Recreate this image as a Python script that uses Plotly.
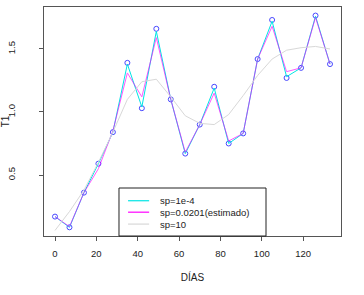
import plotly.graph_objects as go

dias = [0, 7, 14, 21, 28, 35, 42, 49, 56, 63, 70, 77, 84, 91, 98, 105, 112, 119, 126, 133]
t1 = [0.17, 0.085, 0.36, 0.59, 0.84, 1.39, 1.03, 1.66, 1.10, 0.67, 0.90, 1.20, 0.75, 0.83, 1.42, 1.73, 1.27, 1.35, 1.765, 1.38]
sp_1e4 = [0.17, 0.085, 0.36, 0.59, 0.84, 1.38, 1.04, 1.64, 1.10, 0.67, 0.90, 1.19, 0.75, 0.83, 1.42, 1.72, 1.28, 1.35, 1.76, 1.38]
sp_0201 = [0.17, 0.09, 0.36, 0.55, 0.85, 1.31, 1.12, 1.59, 1.10, 0.68, 0.90, 1.15, 0.77, 0.83, 1.42, 1.68, 1.32, 1.35, 1.75, 1.38]
sp_10 = [0.06, 0.21, 0.38, 0.60, 0.84, 1.10, 1.24, 1.26, 1.12, 0.97, 0.91, 0.90, 0.98, 1.13, 1.29, 1.42, 1.49, 1.51, 1.52, 1.50]

legend_labels = ["sp=1e-4", "sp=0.0201(estimado)", "sp=10"]
legend_colors = ["#00E5E5", "#FF00FF", "#D8D8D8"]

x_ticks = [0, 20, 40, 60, 80, 100, 120]
y_ticks = [0.5, 1.0, 1.5]
y_ticklabels = ["0.5", "1.0", "1.5"]

font = "Liberation Sans, Arial, sans-serif"

fig = go.Figure()
fig.add_trace(go.Scatter(x=dias, y=t1, mode="markers",
                         marker=dict(symbol="circle-open", size=5, color="#4848ff", line=dict(width=1)),
                         showlegend=False))
fig.add_trace(go.Scatter(x=dias, y=sp_1e4, mode="lines", line=dict(color=legend_colors[0], width=1), showlegend=False))
fig.add_trace(go.Scatter(x=dias, y=sp_0201, mode="lines", line=dict(color=legend_colors[1], width=1), opacity=0.65, showlegend=False))
fig.add_trace(go.Scatter(x=dias, y=sp_10, mode="lines", line=dict(color=legend_colors[2], width=1), showlegend=False))

# legend box (R-style)
lx0, lx1, ly0, ly1 = 0.2525, 0.7475, 0.0, 0.2096
fig.add_shape(type="rect", xref="paper", yref="paper", x0=lx0, x1=lx1, y0=ly0, y1=ly1,
              line=dict(color="#222", width=1), fillcolor="white", layer="above")
rows = [0.154, 0.104, 0.052]
for lab, col, yy in zip(legend_labels, legend_colors, rows):
    fig.add_shape(type="line", xref="paper", yref="paper", x0=0.283, x1=0.354, y0=yy, y1=yy,
                  line=dict(color=col, width=1.2), layer="above")
    fig.add_annotation(xref="paper", yref="paper", x=0.384, y=yy, text=lab, showarrow=False,
                       xanchor="left", yanchor="middle", font=dict(family=font, size=9.5, color="#222"))

fig.update_layout(
    width=364, height=295,
    margin=dict(l=44, r=23, t=7, b=59),
    paper_bgcolor="white", plot_bgcolor="white",
    font=dict(family=font, size=9.5, color="#222"),
    showlegend=False, hovermode=False,
)
fig.update_xaxes(range=[-5.32, 138.32], tickvals=x_ticks, showgrid=False, zeroline=False, automargin=False,
                 showline=True, mirror=True, linecolor="#555", linewidth=1,
                 ticks="outside", ticklen=4, tickcolor="#555", ticklabelstandoff=5,
                 title=dict(text="DÍAS", standoff=15, font=dict(size=10)))
fig.update_yaxes(range=[0.016, 1.833], tickvals=y_ticks, ticktext=y_ticklabels, showgrid=False, zeroline=False, automargin=False,
                 showline=True, mirror=True, linecolor="#555", linewidth=1,
                 ticks="outside", ticklen=4, tickcolor="#555", tickangle=-90, ticklabelstandoff=20,
                 title=dict(text="T1", standoff=3, font=dict(size=10)))

fig.write_html("out.html", config={"displayModeBar": False},
               post_script="document.body.style.margin='0';")
